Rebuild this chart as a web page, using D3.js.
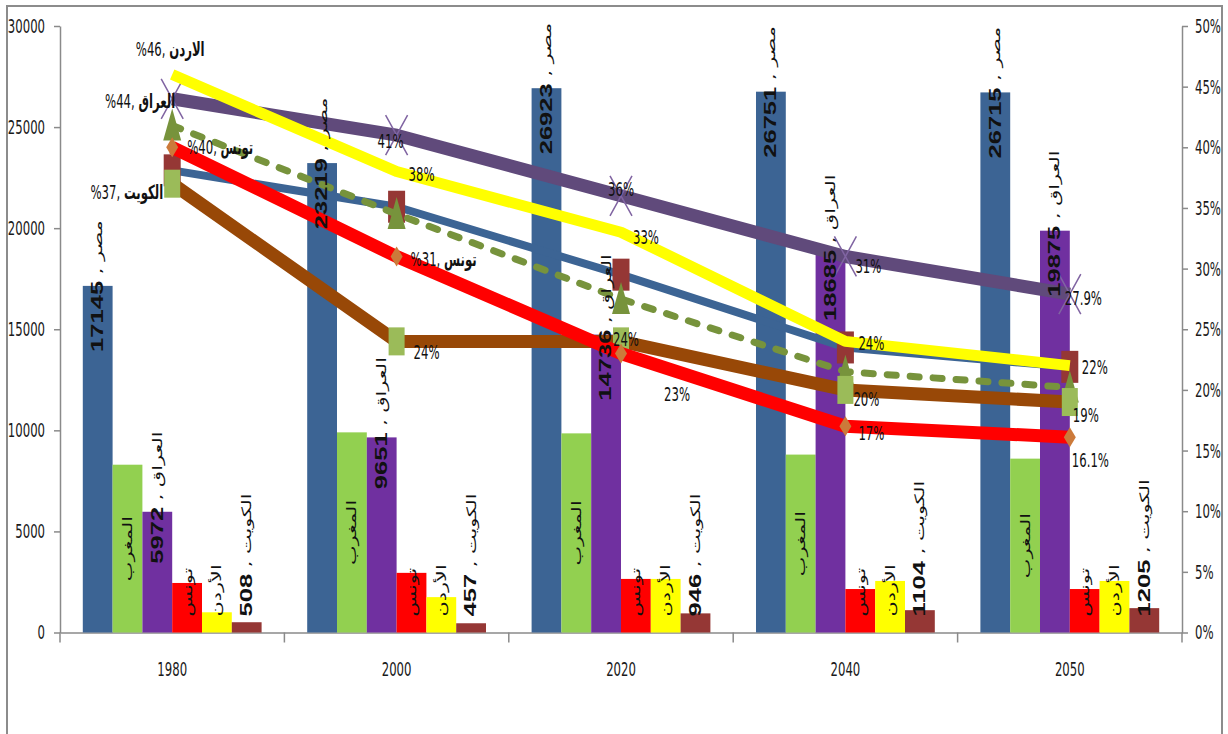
<!DOCTYPE html>
<html>
<head>
<meta charset="utf-8">
<script src="https://cdnjs.cloudflare.com/ajax/libs/d3/7.8.5/d3.min.js"></script>
<style>
body { margin: 0; background: #fff; }
svg { display: block; }
.axis text { fill: #1a1a1a; font-family: "Liberation Sans Narrow", "DejaVu Sans Condensed", sans-serif; font-size: 13px; }
.axis path, .axis line { stroke: #8a8a8a; stroke-width: 1.5; }
.pctlabel { fill: #111; font-family: "Liberation Sans Narrow", "DejaVu Sans Condensed", sans-serif; font-size: 13px; }
.barlabel { fill: #111; }
</style>
</head>
<body>
<div id="chart_div"></div>
<script>
// categories / series
var years = ["1980", "2000", "2020", "2040", "2050"];
var countries = ["مصر", "المغرب", "العراق", "تونس", "الأردن", "الكويت"];

// bar values (left axis)
var egyptVals   = [17145, 23219, 26923, 26751, 26715];
var moroccoVals = [8300, 9900, 9850, 8800, 8600];
var iraqVals    = [5972, 9651, 14736, 18685, 19875];
var tunisiaVals = [2450, 2950, 2650, 2150, 2150];
var jordanVals  = [1000, 1750, 2650, 2550, 2550];
var kuwaitVals  = [508, 457, 946, 1104, 1205];

// line values, % (right axis)
var egyptPct   = [38.1, 35.1, 29.5, 23.5, 21.9];
var moroccoPct = [41.8, 34.5, 27.5, 21.5, 20.2];
var iraqPct    = [44, 41, 36, 31, 27.9];
var tunisiaPct = [40, 31, 23, 17, 16.1];
var jordanPct  = [46, 38, 33, 24, 22];
var kuwaitPct  = [37, 24, 24, 20, 19];

var leftTicks = [0, 5000, 10000, 15000, 20000, 25000, 30000];
var rightTicks = [0, 5, 10, 15, 20, 25, 30, 35, 40, 45, 50];

var barSeries = [egyptVals, moroccoVals, iraqVals, tunisiaVals, jordanVals, kuwaitVals];
var barColors = ["#3C6494", "#92D050", "#7030A0", "#FF0000", "#FFFF00", "#953735"];
// which bars show the value next to the name, and where the label sits
var barShowVal = [true, false, true, false, false, true];
var barLabelAt = ["end", "mid", "end", "mid", "mid", "end"];

var W = 1228, H = 734;
var plot = {left: 60, right: 1182, top: 26, bottom: 632.5};
var SY = 1.5;    // vertical stretch of horizontal text
var SR = 1.6;    // stretch of rotated text

var svg = d3.select("#chart_div").append("svg")
  .attr("width", W).attr("height", H);

svg.append("rect")
  .attr("x", 7).attr("y", 6).attr("width", 1215).attr("height", 760)
  .attr("fill", "#fff").attr("stroke", "#8c8c8c").attr("stroke-width", 2);

var x0 = d3.scaleBand().domain(years).range([plot.left, plot.right]);
var x1 = d3.scaleBand().domain(countries).range([0, x0.bandwidth()]).paddingOuter(0.765);
var yL = d3.scaleLinear().domain([0, 30000]).range([plot.bottom, plot.top]);
var yR = d3.scaleLinear().domain([0, 50]).range([plot.bottom, plot.top]);

function cx(i) { return x0(years[i]) + x0.bandwidth() / 2; }

// ---- axes
var gL = svg.append("g").attr("class", "axis")
  .attr("transform", "translate(" + plot.left + ",0)")
  .call(d3.axisLeft(yL).tickValues(leftTicks).tickFormat(d3.format("d")).tickSize(6).tickSizeOuter(0).tickPadding(9));
gL.selectAll("text").attr("dy", null).attr("dominant-baseline", "central")
  .attr("transform", "scale(1," + SY + ")");

var gR = svg.append("g").attr("class", "axis")
  .attr("transform", "translate(" + plot.right + ",0)")
  .call(d3.axisRight(yR).tickValues(rightTicks).tickFormat(function(d) { return d + "%"; }).tickSize(6).tickSizeOuter(0).tickPadding(7));
gR.selectAll("text").attr("dy", null).attr("dominant-baseline", "central")
  .attr("transform", "scale(1," + SY + ")");

var gB = svg.append("g").attr("class", "axis")
  .attr("transform", "translate(0," + plot.bottom + ")")
  .call(d3.axisBottom(x0).tickSize(0).tickSizeOuter(0));
gB.selectAll("text").attr("y", null).attr("dy", null).attr("dominant-baseline", "central")
  .attr("transform", "translate(0,37.5) scale(1," + SY + ")");
gB.selectAll(".sep").data(years.concat(["end"])).enter().append("line")
  .attr("class", "sep")
  .attr("x1", function(d) { return d == "end" ? plot.right : x0(d); })
  .attr("x2", function(d) { return d == "end" ? plot.right : x0(d); })
  .attr("y1", 0).attr("y2", 10);

// ---- bars
var groups = svg.selectAll(".grp").data(years).enter().append("g")
  .attr("class", "grp")
  .attr("transform", function(d) { return "translate(" + x0(d) + ",0)"; });

groups.selectAll("rect").data(function(d, i) {
    return countries.map(function(c, k) { return {c: c, k: k, v: barSeries[k][i]}; });
  })
  .enter().append("rect")
  .attr("x", function(d) { return x1(d.c); })
  .attr("width", x1.bandwidth())
  .attr("y", function(d) { return yL(d.v); })
  .attr("height", function(d) { return plot.bottom - yL(d.v); })
  .attr("fill", function(d) { return barColors[d.k]; });

// ---- lines
var lineSeries = [
  {name: "مصر",    v: egyptPct,   color: "#3C6494", w: 8,  dash: null,   marker: "rect",    mcolor: "#953735", labels: null},
  {name: "المغرب", v: moroccoPct, color: "#77933C", w: 7,  dash: "9,14", marker: "tri",     mcolor: "#77933C", labels: null},
  {name: "الكويت", v: kuwaitPct,  color: "#984807", w: 13, dash: null,   marker: "square",  mcolor: "#9BBB59",
    labels: [[-9, 8, "end", 1], [17, 11, "start", 0], [-8, -2, "start", 0], [8, 10, "start", 0], [3, 13, "start", 0]]},
  {name: "تونس",   v: tunisiaPct, color: "#FF0000", w: 13, dash: null,   marker: "diamond", mcolor: "#CC7A3A",
    labels: [[15, 0, "start", 1], [14, 2, "start", 1], [56, 41, "middle", 0], [13, 7, "start", 0], [2, 23, "start", 0]]},
  {name: "العراق", v: iraqPct,    color: "#604A7B", w: 13, dash: null,   marker: "x",       mcolor: "#8064A2",
    labels: [[3, 2, "end", 1], [-6, 6, "middle", 0], [0, -6, "middle", 0], [10, 10, "start", 0], [-5, 4, "start", 0]]},
  {name: "الاردن", v: jordanPct,  color: "#FFFF00", w: 11, dash: null,   marker: null,      mcolor: null,
    labels: [[-2, -26, "middle", 1], [12, 3, "start", 0], [12, 5, "start", 0], [13, 2, "start", 0], [12, 2, "start", 0]]}
];

var valueline = d3.line()
  .x(function(d, i) { return cx(i); })
  .y(function(d) { return yR(d); });

lineSeries.forEach(function(s) {
  svg.append("path")
    .attr("d", valueline(s.v))
    .attr("fill", "none")
    .attr("stroke", s.color)
    .attr("stroke-width", s.w)
    .attr("stroke-linejoin", "round")
    .attr("stroke-linecap", s.dash ? "round" : "butt")
    .attr("stroke-dasharray", s.dash);

  s.v.forEach(function(d, i) {
    var px = cx(i), py = yR(d);
    if (s.marker == "rect") {
      svg.append("rect").attr("x", px - 8.5).attr("y", py - 16).attr("width", 17).attr("height", 32).attr("fill", s.mcolor);
    } else if (s.marker == "square") {
      svg.append("rect").attr("x", px - 8).attr("y", py - 14).attr("width", 16).attr("height", 28).attr("fill", s.mcolor);
    } else if (s.marker == "tri") {
      svg.append("path").attr("d", "M" + px + "," + (py - 17) + "L" + (px + 9) + "," + (py + 15) + "L" + (px - 9) + "," + (py + 15) + "Z").attr("fill", s.mcolor);
    } else if (s.marker == "diamond") {
      svg.append("path").attr("d", "M" + px + "," + (py - 10) + "L" + (px + 6) + "," + py + "L" + px + "," + (py + 10) + "L" + (px - 6) + "," + py + "Z").attr("fill", s.mcolor);
    } else if (s.marker == "x") {
      svg.append("path").attr("d", "M" + (px - 11) + "," + (py - 20) + "L" + (px + 11) + "," + (py + 20) + "M" + (px + 11) + "," + (py - 20) + "L" + (px - 11) + "," + (py + 20))
        .attr("stroke", s.mcolor).attr("stroke-width", 1.5).attr("fill", "none");
    }
  });
});

// rotated bar labels, drawn over the lines
var labelGroups = svg.selectAll(".lblgrp").data(years).enter().append("g")
  .attr("class", "lblgrp")
  .attr("transform", function(d) { return "translate(" + x0(d) + ",0)"; });

labelGroups.each(function(yr, i) {
  var g = d3.select(this);
  countries.forEach(function(c, k) {
    var v = barSeries[k][i];
    var bx = x1(c) + x1.bandwidth() / 2;
    var t = g.append("text").attr("class", "barlabel")
      .attr("text-anchor", "middle").attr("dominant-baseline", "central")
      .attr("direction", "ltr");
    var numLen = 0;
    if (barShowVal[k]) {
      var n = t.append("tspan").text(v)
        .style("font-family", "'Liberation Sans', Arial, sans-serif")
        .style("font-weight", "bold").style("font-size", "16px");
      t.append("tspan").text(" , " + c)
        .style("font-family", "'DejaVu Sans', sans-serif").style("font-size", "13px");
      numLen = n.node().getComputedTextLength() * SR;
    } else {
      t.append("tspan").text(c)
        .style("font-family", "'DejaVu Sans', sans-serif").style("font-size", "13px");
    }
    var len = t.node().getComputedTextLength() * SR;
    var top = yL(v);
    var bottom = barLabelAt[k] == "end" ? top - 5 + numLen : (top + plot.bottom) / 2 + len / 2;
    bottom = Math.min(bottom, plot.bottom - 16);
    bottom = Math.max(bottom, 16 + len);
    var cy = bottom - len / 2;
    t.attr("transform", "translate(" + bx + "," + cy + ") scale(1," + SR + ") rotate(-90)");
  });
});

// data labels on the lines
lineSeries.forEach(function(s) {
  if (!s.labels) return;
  s.v.forEach(function(d, i) {
    var L = s.labels[i];
    var t = svg.append("text").attr("class", "pctlabel")
      .attr("direction", "ltr")
      .attr("text-anchor", L[2])
      .attr("dominant-baseline", "central")
      .attr("transform", "translate(" + (cx(i) + L[0]) + "," + (yR(d) + L[1]) + ") scale(1," + SY + ")");
    if (L[3]) {
      t.append("tspan").text("%" + d + ", ");
      t.append("tspan").text(s.name).style("font-weight", "bold");
    } else {
      t.text(d + "%");
    }
  });
});
</script>
</body>
</html>
